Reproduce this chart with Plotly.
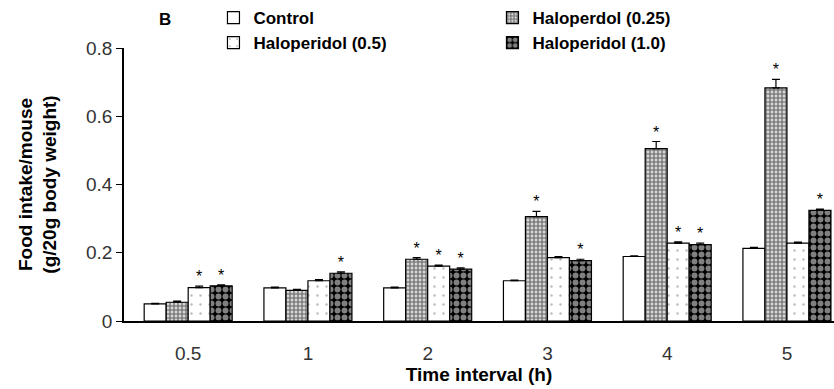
import plotly.graph_objects as go

# Time points (h) and mean food intake per mouse (g/20 g body weight)
time_labels = ["0.5", "1", "2", "3", "4", "5"]
series_names = ["Control", "Haloperdol (0.25)", "Haloperidol (0.5)", "Haloperidol (1.0)"]
control = [0.050, 0.097, 0.097, 0.118, 0.189, 0.213]
halo_025 = [0.055, 0.090, 0.181, 0.306, 0.505, 0.683]
halo_05 = [0.098, 0.118, 0.161, 0.186, 0.228, 0.228]
halo_10 = [0.103, 0.140, 0.152, 0.177, 0.224, 0.324]

# Upper SEM
err_control = [0.002, 0.002, 0.002, 0.002, 0.002, 0.003]
err_025 = [0.003, 0.003, 0.005, 0.015, 0.021, 0.025]
err_05 = [0.004, 0.003, 0.003, 0.003, 0.004, 0.003]
err_10 = [0.003, 0.004, 0.004, 0.004, 0.004, 0.004]

# Significance flags (* p < 0.05 vs control)
sig_control = [0, 0, 0, 0, 0, 0]
sig_025 = [0, 0, 1, 1, 1, 1]
sig_05 = [1, 0, 1, 0, 1, 0]
sig_10 = [1, 1, 1, 1, 1, 1]

values = [control, halo_025, halo_05, halo_10]
errors = [err_control, err_025, err_05, err_10]
signif = [sig_control, sig_025, sig_05, sig_10]

patterns = [
    dict(shape="", bgcolor="white"),
    dict(shape=".", fgcolor="black", bgcolor="white", size=4, solidity=0.75, fillmode="overlay"),
    dict(shape=".", fgcolor="#777777", bgcolor="white", size=9, solidity=0.06, fillmode="overlay"),
    dict(shape=".", fgcolor="white", bgcolor="black", size=7, solidity=0.55, fillmode="overlay"),
]

BARGAP = 0.265
n_series = len(values)
x_idx = list(range(len(time_labels)))
bar_w = (1 - BARGAP) / n_series

fig = go.Figure()
for k, (name, vals, errs, pat) in enumerate(zip(series_names, values, errors, patterns)):
    fig.add_trace(go.Bar(
        x=x_idx, y=vals, name=name,
        marker=dict(color="white", pattern=pat, line=dict(color="black", width=1.2)),
        error_y=dict(type="data", array=errs, arrayminus=[0] * len(errs), symmetric=False,
                     color="black", thickness=1.2, width=4),
        hoverinfo="skip",
    ))

# Asterisks above significant bars
star_x, star_y = [], []
for k in range(n_series):
    for i in x_idx:
        if signif[k][i]:
            star_x.append(i - (1 - BARGAP) / 2 + (k + 0.5) * bar_w)
            star_y.append(values[k][i] + errors[k][i])
fig.add_trace(go.Scatter(
    x=star_x, y=star_y, mode="text", text=["*"] * len(star_x),
    textposition="top center", textfont=dict(family="Liberation Sans", size=16, color="black"),
    showlegend=False, hoverinfo="skip",
))

fig.add_annotation(text="<b>B</b>", xref="paper", yref="paper", x=0.046, y=1.0,
                   yshift=40, showarrow=False, font=dict(family="Liberation Sans", size=17, color="black"))

fig.update_layout(
    width=834, height=389,
    margin=dict(l=124, r=0, t=48, b=68, autoexpand=False),
    paper_bgcolor="white", plot_bgcolor="white",
    barmode="group", bargap=BARGAP, bargroupgap=0,
    font=dict(family="Liberation Sans", color="black"),
    legend=dict(orientation="h", x=0.126, y=1.0, xanchor="left", yanchor="top",
                yref="container", entrywidth=234, entrywidthmode="pixels",
                font=dict(family="Liberation Sans", size=17, color="black", weight="bold"),
                tracegroupgap=0, itemwidth=30, bgcolor="rgba(0,0,0,0)"),
    xaxis=dict(
        range=[-0.536, 5.393], tickmode="array", tickvals=x_idx, ticktext=time_labels,
        showline=True, linecolor="black", linewidth=1.5, showgrid=False, zeroline=False,
        ticks="", tickfont=dict(family="Liberation Sans", size=19, color="#333333"),
        ticklabelstandoff=14,
        title=dict(text="<b>Time interval (h)</b>", standoff=4,
                   font=dict(family="Liberation Sans", size=19, color="black")),
    ),
    yaxis=dict(
        range=[0, 0.8], tickvals=[0, 0.2, 0.4, 0.6, 0.8], ticktext=["0", "0.2", "0.4", "0.6", "0.8"],
        showline=True, linecolor="black", linewidth=1.5, showgrid=False, zeroline=False,
        ticks="outside", ticklen=6, tickcolor="black",
        tickfont=dict(family="Liberation Sans", size=19, color="#333333"),
        title=dict(text="<b>Food intake/mouse<br>(g/20g body weight)</b>", standoff=24,
                   font=dict(family="Liberation Sans", size=19, color="black")),
    ),
)

fig.write_html("out.html")
